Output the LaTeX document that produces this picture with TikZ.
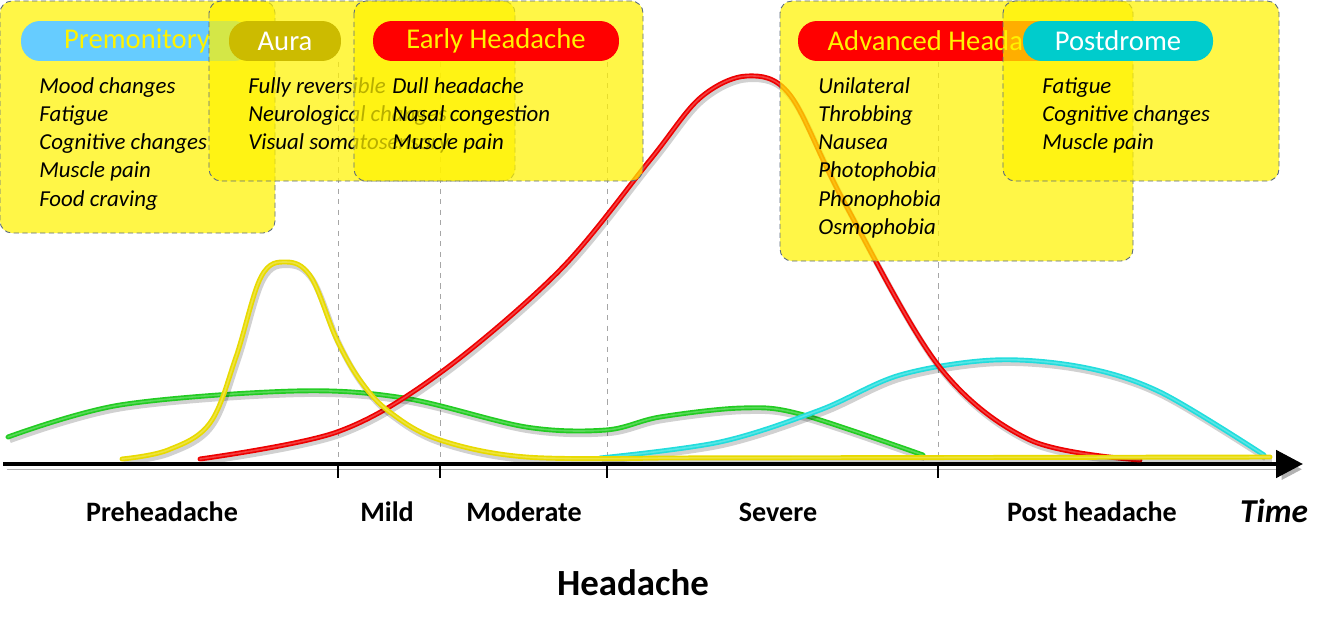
\documentclass[tikz,border=0pt]{standalone}
\usepackage{fontspec}
\setmainfont{Carlito}
\usetikzlibrary{arrows.meta,positioning}

\definecolor{boxline}{HTML}{5A6A80}
\definecolor{premfill}{HTML}{66CCFF}
\definecolor{aurafill}{HTML}{CCBB00}
\definecolor{postfill}{HTML}{00CCCC}
\definecolor{greencurve}{HTML}{22CC22}
\definecolor{yellowcurve}{HTML}{E8DA00}
\definecolor{redcurve}{HTML}{EE0000}
\definecolor{cyancurve}{HTML}{22DDDD}

\begin{document}
\begin{tikzpicture}[x=0.02cm,y=-0.02cm,
  box/.style={draw=boxline,densely dashed,line width=0.5pt,fill=yellow,fill opacity=0.72,rounded corners=0.24cm},
  pill/.style={rounded corners=0.38cm,minimum height=0.8cm,inner sep=0pt,font=\fontsize{16.3}{19}\selectfont},
  item/.style={anchor=base west,inner sep=0pt,font=\fontsize{13}{16}\selectfont\itshape},
  stage/.style={inner sep=0pt,font=\fontsize{16}{19}\selectfont\bfseries},
  guide/.style={gray!70,dashed,line width=0.5pt},
  tick/.style={line width=1.2pt},
  curve/.style={line width=2.8pt,line cap=round,
    preaction={draw=black,draw opacity=0.18,line width=3.4pt,transform canvas={xshift=1pt,yshift=-1.8pt}},
    postaction={draw=white,draw opacity=0.25,line width=0.9pt}}]
\useasboundingbox (0,0) rectangle (1334,625);

% stage borders
\foreach \x in {338,440,607,938}
  \draw[guide] (\x,62) -- (\x,462);

% time axis
\coordinate (origin) at (3,464);
\coordinate (tip) at (1303,464);
\draw[line width=2.8pt,-{Triangle[length=0.54cm,width=0.54cm]},
  preaction={draw=black!30,transform canvas={xshift=2pt,yshift=-3pt}}] (origin) -- (tip);
\foreach \x in {338,440,607,938}
  \draw[tick] (\x,464) -- (\x,478);

% symptom curves
\draw[curve,greencurve] plot[smooth,tension=0.55] coordinates {(8,437) (120,405) (295,391) (404,398) (526,427) (606,430) (660,417) (742,408) (800,414) (923,455)};
\draw[curve,cyancurve] plot[smooth,tension=0.55] coordinates {(600,458) (720,442) (820,410) (900,375) (994,360) (1082,367) (1160,392) (1264,455)};
\draw[curve,redcurve] plot[smooth,tension=0.55] coordinates {(200,459) (337,432) (440,373) (560,270) (650,160) (700,98) (747,76) (790,95) (843,200) (938,365) (1030,440) (1140,460)};
\draw[curve,yellowcurve] plot[smooth,tension=0.6] coordinates {(122,459) (168,450) (210,423) (236,357) (261,277) (286,262) (311,277) (337,340) (362,383) (391,413) (440,440) (526,457) (660,458)} -- (1270,457);

% phase boxes
\draw[box] (0,1) rectangle (275,233);
\node[pill,fill=premfill,text=yellow,minimum width=4.64cm] (premonitory) at (137,41) {Premonitory};
\foreach \t [count=\i] in {Mood changes,Fatigue,Cognitive changes,Muscle pain,Food craving}
  \node[item] (prem\i) at (39,{93+28.3*(\i-1)}) {\t};

\draw[box] (209,1) rectangle (515,181);
\node[pill,fill=aurafill,text=white,minimum width=2.24cm] (aura) at (285,41) {Aura};
\foreach \t [count=\i] in {Fully reversible,Neurological changes,Visual somatosensory}
  \node[item] (aura\i) at (248,{93+28.3*(\i-1)}) {\t};

\draw[box] (354,1) rectangle (643,181);
\node[pill,fill=red,text=yellow,minimum width=4.92cm] (early) at (496,41) {Early Headache};
\foreach \t [count=\i] in {Dull headache,Nasal congestion,Muscle pain}
  \node[item] (early\i) at (392,{93+28.3*(\i-1)}) {\t};

\draw[box] (780,1) rectangle (1133,261);
\node[pill,fill=red,text=yellow,minimum width=5.92cm] (advanced) at (946,41) {Advanced Headache};
\foreach \t [count=\i] in {Unilateral,Throbbing,Nausea,Photophobia,Phonophobia,Osmophobia}
  \node[item] (adv\i) at (818,{93+28.3*(\i-1)}) {\t};

\draw[box] (1003,1) rectangle (1279,181);
\node[pill,fill=postfill,text=white,minimum width=3.8cm] (postdrome) at (1118,41) {Postdrome};
\foreach \t [count=\i] in {Fatigue,Cognitive changes,Muscle pain}
  \node[item] (post\i) at (1042,{93+28.3*(\i-1)}) {\t};

% stage labels
\node[stage] (pre) at (162,512) {Preheadache};
\node[stage] (mild) at (387,512) {Mild};
\node[stage] (moderate) at (524,512) {Moderate};
\node[stage] (severe) at (778,512) {Severe};
\node[stage] (posthead) at (1092,512) {Post headache};
\node[inner sep=0pt,font=\fontsize{19}{22}\selectfont\bfseries\itshape] (time) at (1274,511) {Time};
\node[inner sep=0pt,font=\fontsize{21}{25}\selectfont\bfseries] (headache) at (633,583) {Headache};
\end{tikzpicture}
\end{document}
